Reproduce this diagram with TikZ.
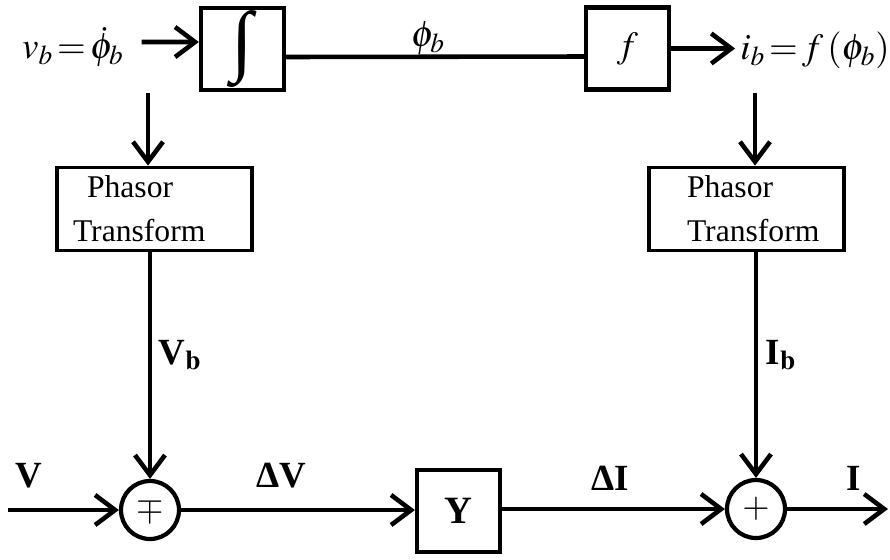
\documentclass[tikz,border=0pt]{standalone}
\usepackage{mathptmx}
\usepackage{fontspec}
\setmainfont{Liberation Serif}
\usetikzlibrary{arrows.meta,positioning,calc}
\tikzset{
  blk/.style={draw,line width=2.4pt,minimum width=1.66cm,minimum height=1.64cm,inner sep=0pt,
    font=\fontsize{21}{21}\selectfont},
  phas/.style={draw,line width=2.2pt,text width=3.5cm,inner xsep=0.2cm,inner ysep=0pt,
    minimum height=1.66cm,align=left,font=\fontsize{18}{25}\selectfont},
  junc/.style={circle,draw,line width=2.4pt,minimum size=1.16cm,inner sep=0pt,
    font=\fontsize{20}{20}\selectfont},
  arr/.style={-{Straight Barb[length=4mm,width=6mm]},line width=2.6pt},
  lin/.style={line width=2.6pt},
  lbl/.style={font=\fontsize{21}{21}\selectfont\bfseries,inner sep=0pt},
  mth/.style={font=\fontsize{21}{21}\selectfont,inner sep=0pt},
}

\begin{document}
\begin{tikzpicture}[x=0.02cm,y=-0.02cm]
\useasboundingbox (0,0) rectangle (890,559);
% top row
\node[mth] (vb) at (73,47) {$v_b\!=\!\dot{\phi}_b$};
\node[blk] (int) at (242.5,49) {\resizebox{!}{1.12cm}{∫}};
\node[blk] (f) at (627.5,48.5) {$f$};
\node[mth] (ib) at (815,50) {$i_b\!=\!f\,(\phi_b)$};
\node[mth] (phib) at (428,38) {$\phi_b$};

% phasor blocks
\node[phas] (pv) at (154.5,209) {\hspace*{0.4cm}Phasor\\\hspace*{0.12cm}Transform};
\node[phas] (pi) at (746.5,209) {\hspace*{0.56cm}Phasor\\\hspace*{0.56cm}Transform};
\coordinate (tapv) at (148,93);
\coordinate (tapi) at (755,93);

% bottom row
\node[junc] (sv) at (150,510) {$\mp$};
\node[blk,font=\fontsize{22}{22}\selectfont\bfseries] (Y) at (458.5,511) {Y};
\node[junc] (si) at (756,509) {$+$};
\coordinate (vin) at (8,510);
\coordinate (iout) at (888,509);

% labels
\node[lbl] (Vb) at (180,355) {V$_{\mathbf{b}}$};
\node[lbl] (Ib) at (781,355) {I$_{\mathbf{b}}$};
\node[lbl] (V) at (29,476) {V};
\node[lbl] (dV) at (281,476) {ΔV};
\node[lbl] (dI) at (610,478) {ΔI};
\node[lbl] (I) at (854,478) {I};

% edges
\draw[arr,shorten <=10pt] (vb.east |- int.west) ++(0,-7) coordinate (vbo) -- ([yshift=0.14cm]int.west);
\draw[lin] ([yshift=-0.16cm]int.east) -- ([yshift=-0.16cm]f.west);
\draw[arr] (f.east) -- ++(64,0) coordinate (fo);
\draw[arr] (tapv) -- (tapv |- pv.north);
\draw[arr] (tapi) -- (tapi |- pi.north);
\draw[arr] (pv.south -| sv) -- (sv.north);
\draw[arr] (pi.south -| si) -- (si.north);
\draw[arr] (vin) -- (sv.west);
\draw[arr] (sv.east) -- (sv.east -| Y.west);
\draw[arr] (Y.east |- si.west) -- (si.west);
\draw[arr] (si.east) -- (iout);
\end{tikzpicture}
\end{document}
